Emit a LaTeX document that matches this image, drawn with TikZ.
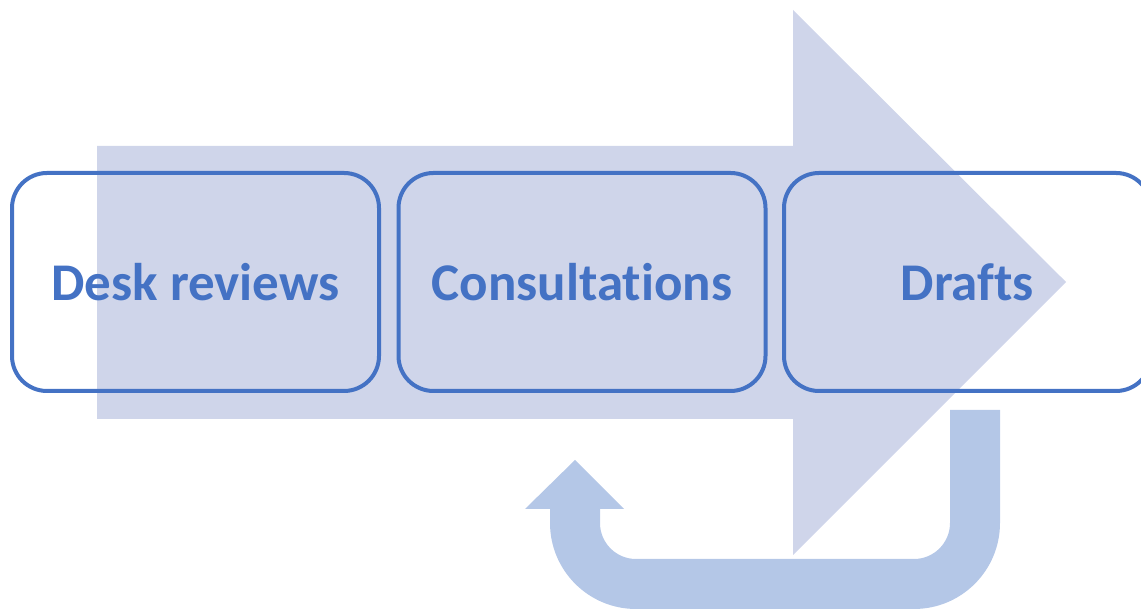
\documentclass[tikz,border=0pt]{standalone}
\usepackage{fontspec}
\setmainfont[Ligatures={NoCommon}]{Carlito}
\definecolor{bigarrow}{HTML}{CFD5EA}
\definecolor{uturn}{HTML}{B4C7E7}
\definecolor{boxblue}{HTML}{4472C4}
\begin{document}
\begin{tikzpicture}[x=1pt,y=1pt,
  stagebox/.style={draw=boxblue, line width=4pt, rounded corners=35pt,
    minimum width=367pt, minimum height=218pt, inner sep=0pt,
    text=boxblue, font=\fontsize{53}{60}\selectfont\bfseries}]
\useasboundingbox (0,0) rectangle (1141,609);
% big arrow
\fill[bigarrow] (97,463) -- (793,463) -- (793,599) -- (1066,327) -- (793,54) -- (793,190) -- (97,190) -- cycle;
% u-turn arrow
\fill[uturn] (1000,199) -- (1000,86) arc[start angle=0,end angle=-90,radius=86]
  -- (636,0) arc[start angle=-90,end angle=-180,radius=86]
  -- (550,100) -- (525,100) -- (575,149) -- (624,100) -- (600,100) -- (600,86)
  arc[start angle=180,end angle=270,radius=36]
  -- (914,50) arc[start angle=-90,end angle=0,radius=36]
  -- (950,199) -- cycle;
% boxes
\node[stagebox] (desk) at (195.5,327) {Desk reviews};
\node[stagebox] (cons) at (582,327) {Consultations};
\node[stagebox] (drafts) at (967.5,327) {Drafts};
\end{tikzpicture}
\end{document}
